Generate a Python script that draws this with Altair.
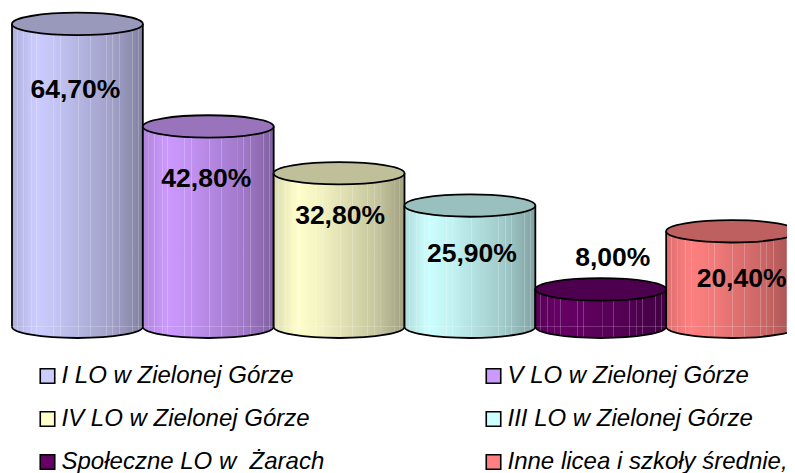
import altair as alt

names = ["I LO w Zielonej Górze", "V LO w Zielonej Górze", "IV LO w Zielonej Górze",
         "III LO w Zielonej Górze", "Społeczne LO w \u00a0Żarach", "Inne licea i szkoły średnie,"]
values = [64.7, 42.8, 32.8, 25.9, 8.0, 20.4]
labels = ["64,70%", "42,80%", "32,80%", "25,90%", "8,00%", "20,40%"]
colors = ["#CCCCFF", "#CC99FF", "#FFFFCC", "#CCFFFF", "#660066", "#FF8080"]
tops = ["#9999BB", "#9973BB", "#BFBF99", "#99BFBF", "#4D004D", "#BF6060"]
label_dx = [-2, -2, 1, 2, 12, 10]
label_dy = [66, 53, 43, 48, -31, 48]

profile = [(0, .86), (.18, 1.0), (.36, .95), (.55, .87), (.78, .78), (1, .63)]
stripes = [.04, .09, .15, .19, .32, .37, .51, .60, .72, .77, .82, .92, .965]
ELLIPSE = "M-1,0 C-1,0.0945 -0.5523,0.171 0,0.171 C0.5523,0.171 1,0.0945 1,0 C1,-0.0945 0.5523,-0.171 0,-0.171 C-0.5523,-0.171 -1,-0.0945 -1,0 Z"
BOTTOM = "M-1,0 C-1,0.0945 -0.5523,0.171 0,0.171 C0.5523,0.171 1,0.0945 1,0"


def factor(p):
    for (a, fa), (b, fb) in zip(profile, profile[1:]):
        if a <= p <= b:
            return fa + (fb - fa) * (p - a) / (b - a)
    return profile[-1][1]


def shade(color, f, mix=0.0):
    rgb = [int(color[i:i + 2], 16) * f for i in (1, 3, 5)]
    rgb = [round(c + (255 - c) * mix) for c in rgb]
    return "#%02x%02x%02x" % tuple(rgb)


def gradient(color):
    stops = [alt.GradientStop(offset=0, color=shade(color, factor(0)))]
    for s in stripes:
        stops.append(alt.GradientStop(offset=s - .004, color=shade(color, factor(s))))
        stops.append(alt.GradientStop(offset=s - .003, color=shade(color, factor(s), .22)))
        stops.append(alt.GradientStop(offset=s + .003, color=shade(color, factor(s), .22)))
        stops.append(alt.GradientStop(offset=s + .004, color=shade(color, factor(s))))
    stops.append(alt.GradientStop(offset=1, color=shade(color, factor(1))))
    return alt.LinearGradient(gradient="linear", stops=stops, x1=0, x2=1, y1=0, y2=0)


x_scale = alt.Scale(domain=names, paddingInner=0, paddingOuter=0, round=False, range=[0, 785])
y_scale = alt.Scale(domain=[0, 68.1], nice=False, zero=False, range=[318.8, 0])
X = alt.X("name:N", scale=x_scale, axis=None, sort=names)
Y = alt.Y("value:Q", scale=y_scale, axis=None)
Y0 = alt.Y("zero:Q", scale=y_scale, axis=None)
SIZE = 130.9 ** 2
STROKE = 1.8

layers = []
for name, value, label, color, top, dx, dy in zip(names, values, labels, colors, tops, label_dx, label_dy):
    row = alt.Data(values=[{"name": name, "value": value, "zero": 0, "label": label}])
    grad = gradient(color)
    layers.append(alt.Chart(row).mark_point(shape=BOTTOM, size=SIZE, filled=True, fill=grad, stroke="black",
                                            strokeWidth=STROKE, opacity=1).encode(x=X, y=Y0))
    layers.append(alt.Chart(row).mark_bar(fill=grad, strokeWidth=0).encode(x=X, y=Y, y2="zero:Q"))
    for pos in (0, 1):
        layers.append(alt.Chart(row).mark_rule(color="black", strokeWidth=STROKE).encode(
            x=alt.X("name:N", scale=x_scale, axis=None, sort=names, bandPosition=pos), y=Y, y2="zero:Q"))
    layers.append(alt.Chart(row).mark_point(shape=ELLIPSE, size=SIZE, filled=True, fill=top, stroke="black",
                                            strokeWidth=STROKE, opacity=1).encode(x=X, y=Y))
for name, value, label, dx, dy in zip(names, values, labels, label_dx, label_dy):
    row = alt.Data(values=[{"name": name, "value": value, "label": label}])
    layers.append(alt.Chart(row).mark_text(font="Liberation Sans", fontWeight="bold", fontSize=26.5, color="black",
                                           dx=dx, dy=dy, baseline="middle", align="center").encode(x=X, y=Y, text="label:N"))

legend_rows = alt.Data(values=[{"name": n} for n in names])
legend_layer = alt.Chart(legend_rows).mark_point(shape="square", filled=True, size=0, opacity=1).encode(
    color=alt.Color("name:N", scale=alt.Scale(domain=names, range=colors), sort=names,
                    legend=alt.Legend(title=None, orient="none", legendX=23.5, legendY=356, columns=2,
                                      direction="horizontal", symbolType="square", symbolSize=210,
                                      symbolStrokeColor="black", symbolStrokeWidth=1.6,
                                      labelFont="Liberation Sans", labelFontStyle="italic", labelFontSize=24,
                                      labelColor="black", labelLimit=400, labelOffset=2,
                                      rowPadding=19, columnPadding=157, symbolOpacity=1)),
)
layers.append(legend_layer)

chart = alt.layer(*layers).properties(
    width=775, height=465, padding={"left": 4, "top": 0, "right": 0, "bottom": 0},
    autosize=alt.AutoSizeParams(type="none"), background="white",
).resolve_scale(x="shared", y="shared").configure_view(stroke=None)

chart.save("out.html", embed_options={"renderer": "svg", "actions": False})
